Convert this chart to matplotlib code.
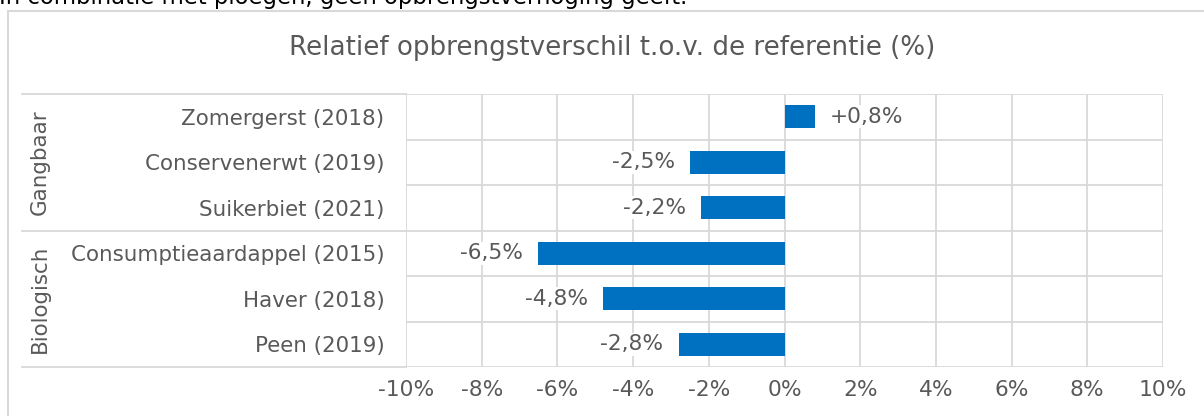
import numpy as np
import matplotlib
matplotlib.use("Agg")
import matplotlib.pyplot as plt
from matplotlib.patches import Rectangle
from matplotlib.transforms import blended_transform_factory

# data
gewassen = ["Zomergerst (2018)", "Conservenerwt (2019)", "Suikerbiet (2021)",
            "Consumptieaardappel (2015)", "Haver (2018)", "Peen (2019)"]
verschil = [0.8, -2.5, -2.2, -6.5, -4.8, -2.8]
groepen = ["Gangbaar", "Biologisch"]
groep_grootte = [3, 3]
xticks = [-10, -8, -6, -4, -2, 0, 2, 4, 6, 8, 10]

blauw = "#0070C0"
grijs = "#595959"
lijn = "#d9d9d9"

plt.rcParams['font.family'] = ['DejaVu Sans']

fig = plt.figure(figsize=(12.04, 4.16), dpi=100)
ax = fig.add_axes([406 / 1204, 1 - 367 / 416, 757 / 1204, 273 / 416])

y = np.arange(len(gewassen))
ax.barh(y, verschil, height=0.5, color=blauw, zorder=3)

ax.set_xlim(-10, 10)
ax.set_ylim(len(gewassen) - 0.5, -0.5)
ax.set_xticks(xticks)
ax.set_xticklabels([f"{t}%" for t in xticks])
ax.set_yticks(y)
ax.set_yticklabels(gewassen)
ax.tick_params(axis="both", length=0, colors=grijs)
ax.tick_params(axis="x", labelsize=15.7, pad=9)
ax.tick_params(axis="y", labelsize=15.4, pad=15.5)

# rasterlijnen
for t in xticks:
    ax.axvline(t, color=lijn, lw=1.3, zorder=1)
for b in np.arange(len(gewassen) + 1) - 0.5:
    ax.axhline(b, color=lijn, lw=1.3, zorder=1)
for s in ax.spines.values():
    s.set_visible(False)

# labels
for yi, v in zip(y, verschil):
    txt = ("+" if v > 0 else "") + f"{v:.1f}".replace(".", ",") + "%"
    if v > 0:
        ax.text(v + 0.4, yi, txt, ha="left", va="center", fontsize=15.7, color=grijs,
                bbox=dict(facecolor="white", edgecolor="none", pad=1), zorder=4)
    else:
        ax.text(v - 0.4, yi, txt, ha="right", va="center", fontsize=15.7, color=grijs,
                bbox=dict(facecolor="white", edgecolor="none", pad=1), zorder=4)

# groepen
tr = blended_transform_factory(ax.transAxes, ax.transData)
start = -0.5
ax.plot([-0.507, 0], [start, start], transform=tr, color=lijn, lw=1.3, clip_on=False)
for g, n in zip(groepen, groep_grootte):
    eind = start + n
    ax.plot([-0.507, 0], [eind, eind], transform=tr, color=lijn, lw=1.3, clip_on=False)
    ax.text(-0.4835, (start + eind) / 2, g, rotation=90, ha="center", va="center",
            fontsize=15.4, color=grijs, transform=tr)
    start = eind

fig.text(0.5085, 1 - 48 / 416, "Relatief opbrengstverschil t.o.v. de referentie (%)",
         ha="center", va="center", fontsize=18.8, color=grijs)

# kader van de grafiek en stukje tekst erboven
fig.patches.append(Rectangle((7.5 / 1204, -0.1), 1.2, 1 - 10.5 / 416 + 0.1,
                             transform=fig.transFigure, fill=False,
                             edgecolor=lijn, lw=1.5, clip_on=False))
fig.text(-0.001, 1 - 4 / 416, "In combinatie met ploegen, geen opbrengstverhoging geeft.",
         ha="left", va="baseline", fontsize=16.4, color="black")

fig.savefig("out.png", dpi=100)
